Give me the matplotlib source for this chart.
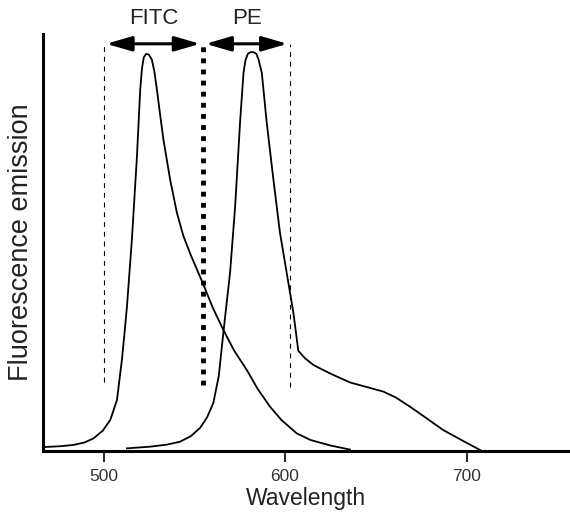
import numpy as np
import matplotlib.pyplot as plt

plt.rcParams['font.family'] = ['Liberation Sans', 'DejaVu Sans']
plt.rcParams['lines.scale_dashes'] = False

# ---------------------- Data ----------------------
fitc_wl = [466.7, 476.0, 483.2, 489.5, 494.5, 499.5, 503.7, 507.4, 510.1, 511.5,
           512.9, 515.6, 518.4, 520.2, 521.2, 522.2, 523.5, 525.0, 526.6, 528.0,
           529.4, 531.2, 533.0, 536.7, 540.4, 544.0, 548.0, 554.6, 560.0, 566.0,
           572.0, 578.9, 585.0, 591.7, 598.0, 606.4, 614.0, 624.8, 635.8]
fitc_em = [0.009, 0.011, 0.014, 0.020, 0.030, 0.048, 0.074, 0.122, 0.218, 0.280,
           0.346, 0.506, 0.706, 0.866, 0.918, 0.944, 0.952, 0.950, 0.938, 0.910,
           0.866, 0.805, 0.746, 0.650, 0.571, 0.515, 0.470, 0.403, 0.345, 0.290,
           0.240, 0.194, 0.148, 0.106, 0.074, 0.042, 0.026, 0.013, 0.003]

pe_wl = [512.9, 525.7, 535.0, 542.2, 548.0, 553.2, 557.0, 560.5, 563.5, 566.0,
         569.7, 572.5, 575.2, 577.1, 578.2, 579.5, 581.0, 582.6, 584.2, 585.5,
         587.2, 589.9, 593.6, 597.2, 600.9, 604.6, 607.3, 611.0, 615.6, 620.0,
         626.6, 635.8, 645.0, 654.2, 661.0, 668.8, 678.0, 687.1, 698.0, 708.3]
pe_em = [0.006, 0.010, 0.015, 0.022, 0.035, 0.055, 0.080, 0.115, 0.180, 0.283,
         0.427, 0.586, 0.787, 0.906, 0.937, 0.952, 0.956, 0.956, 0.952, 0.937,
         0.906, 0.787, 0.650, 0.523, 0.427, 0.331, 0.240, 0.222, 0.206, 0.196,
         0.182, 0.164, 0.153, 0.142, 0.128, 0.106, 0.078, 0.050, 0.024, 0.0]

band_edges = [500, 554.7, 602.8]
band_names = ['FITC', 'PE']
x_ticks = [500, 600, 700]

# ---------------------- Plot ----------------------
fig = plt.figure(figsize=(5.7, 5.2), dpi=100)
ax = fig.add_axes([0.075, 0.133, 0.925, 0.802])

ax.plot(fitc_wl, fitc_em, color='black', lw=1.3)
ax.plot(pe_wl, pe_em, color='black', lw=1.3)

# filter band boundaries
ax.plot([band_edges[0]] * 2, [0.165, 0.978], color='black', lw=0.8, dashes=(3.5, 3.5))
ax.plot([band_edges[1]] * 2, [0.158, 0.976], color='black', lw=3.5, dashes=(3.5, 4.5))
ax.plot([band_edges[2]] * 2, [0.154, 0.976], color='black', lw=0.8, dashes=(3.5, 3.5))

# double arrows and labels
for i, name in enumerate(band_names):
    x0, x1 = band_edges[i], band_edges[i + 1]
    ax.annotate('', xy=(x0 + 1.5, 0.976), xytext=(x1 - 1.5, 0.976),
                arrowprops=dict(arrowstyle='<|-|>,head_length=1.1,head_width=0.32',
                                mutation_scale=14, lw=2.2, color='black',
                                shrinkA=0, shrinkB=0))
    ax.text((x0 + x1) / 2 + 0.5, 1.036, name, ha='center', va='center',
            fontsize=16, color='#222222', clip_on=False)

ax.set_xlim(466.5, 757)
ax.set_ylim(0, 1)
ax.set_xticks(x_ticks)
ax.set_yticks([])
ax.tick_params(axis='x', direction='out', length=8, width=1.2, labelsize=12.5,
               labelcolor='#333333', pad=5)
for side in ['top', 'right']:
    ax.spines[side].set_visible(False)
for side in ['left', 'bottom']:
    ax.spines[side].set_linewidth(2.2)

ax.set_xlabel('Wavelength', fontsize=16.5, color='#222222', labelpad=2)
ax.set_ylabel('Fluorescence emission', fontsize=19.5, color='#222222', labelpad=6)

fig.savefig('out.png', dpi=100)
